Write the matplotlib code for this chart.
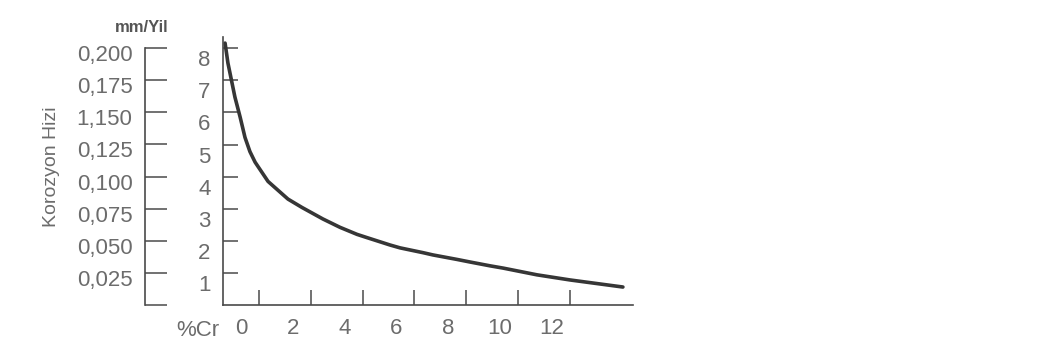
import matplotlib.pyplot as plt
import matplotlib.transforms as mtransforms

# ── Datos ──────────────────────────────────────────────────
# Contenido de cromo (%Cr) y velocidad de corrosión (escala 1-8)
cr = [-1.31, -1.20, -0.93, -0.73, -0.54, -0.35, -0.15, 0.35, 1.12, 1.66,
      2.47, 3.13, 3.79, 4.17, 5.06, 5.45, 6.34, 6.72, 7.65, 8.15, 8.93,
      9.43, 10.74, 12.02, 14.06]
hiz = [8.16, 7.54, 6.48, 5.86, 5.22, 4.78, 4.45, 3.85, 3.30, 3.04,
       2.68, 2.42, 2.20, 2.10, 1.87, 1.78, 1.63, 1.56, 1.42, 1.34, 1.22,
       1.15, 0.94, 0.78, 0.56]

x_ticks = [0, 2, 4, 6, 8, 10, 12]
y_ticks = [1, 2, 3, 4, 5, 6, 7, 8]
mm_ticks = [0, 0.025, 0.05, 0.075, 0.1, 0.125, 0.15, 0.175, 0.2]
mm_labels = ["", "0,025", "0,050", "0,075", "0,100", "0,125", "1,150",
             "0,175", "0,200"]

# ── Estilo ─────────────────────────────────────────────────
plt.rcParams["font.family"] = ["Liberation Sans", "DejaVu Sans"]
texto = "#6c6c6c"
linea = "#4a4a4a"
fs = 16

W, H = 1058, 363
fig = plt.figure(figsize=(W / 100, H / 100), dpi=100)
fig.patch.set_facecolor("white")

def caja(x0, y0, x1, y1):
    # convierte un rectángulo en píxeles a fracciones de la figura
    return [x0 / W, 1 - y1 / H, (x1 - x0) / W, (y1 - y0) / H]

# ── Eje principal ──────────────────────────────────────────
ax = fig.add_axes(caja(223, 37, 633, 305))
ax.plot(cr, hiz, color="#363636", lw=2.6, solid_capstyle="round",
        solid_joinstyle="round")
ax.set_xlim(-1.39, 14.45)
ax.set_ylim(0, 8.35)
for lado in ["top", "right"]:
    ax.spines[lado].set_visible(False)
for lado in ["left", "bottom"]:
    ax.spines[lado].set_color(linea)
    ax.spines[lado].set_linewidth(1.2)

ax.set_xticks(x_ticks)
ax.set_yticks(y_ticks)
ax.tick_params(direction="in", length=11, width=1.1, color=linea,
               labelsize=fs, labelcolor=texto, pad=9)

# etiquetas algo desplazadas respecto a las marcas
dx = mtransforms.ScaledTranslation(-0.18, 0, fig.dpi_scale_trans)
for lab in ax.get_xticklabels():
    lab.set_transform(lab.get_transform() + dx)
dy = mtransforms.ScaledTranslation(0, -0.10, fig.dpi_scale_trans)
for lab in ax.get_yticklabels():
    lab.set_transform(lab.get_transform() + dy)

# ── Eje secundario en mm/Yil ───────────────────────────────
ax2 = fig.add_axes(caja(145, 48, 170, 305))
ax2.set_ylim(0, 0.2)
ax2.set_xlim(0, 1)
ax2.patch.set_visible(False)
for lado in ["top", "right", "bottom"]:
    ax2.spines[lado].set_visible(False)
ax2.spines["left"].set_color(linea)
ax2.spines["left"].set_linewidth(1.2)
ax2.set_xticks([])
ax2.set_yticks(mm_ticks)
ax2.set_yticklabels(mm_labels)
ax2.tick_params(direction="in", length=16, width=1.1, color=linea,
                labelsize=fs, labelcolor=texto, pad=9)
dy2 = mtransforms.ScaledTranslation(0, -0.05, fig.dpi_scale_trans)
for lab in ax2.get_yticklabels():
    lab.set_transform(lab.get_transform() + dy2)

# ── Textos ─────────────────────────────────────────────────
fig.text(198 / W, 1 - 330 / H, "%Cr", ha="center", va="center",
         fontsize=fs, color=texto)
fig.text(142 / W, 1 - 27 / H, "mm/Yil", ha="center", va="center",
         fontsize=12, color="#555555", fontweight="bold")
fig.text(52 / W, 1 - 167 / H, "Korozyon Hizi", ha="center", va="center",
         rotation=90, fontsize=14, color=texto)

fig.savefig("out.png", dpi=100, facecolor="white")
